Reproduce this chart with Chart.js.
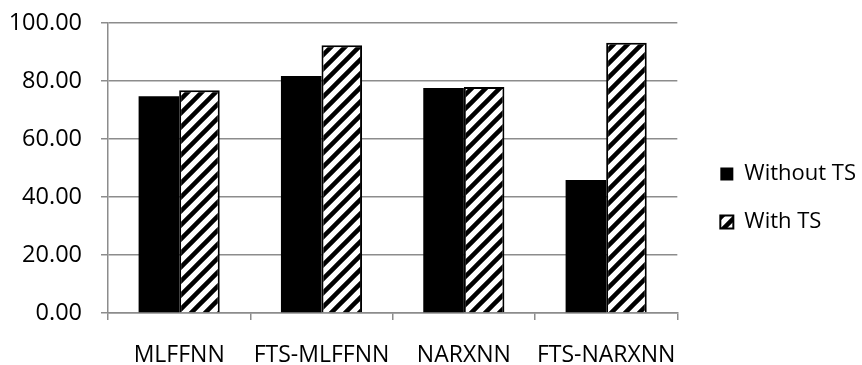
<!DOCTYPE html>
<html lang="en">
  <head>
    <meta charset="UTF-8" />
    <title>With / Without TS</title>
    <script src="https://cdn.jsdelivr.net/npm/chart.js"></script>
    <style>
      body {
        margin: 0;
        padding: 0;
        background: #fff;
      }
      #wrap {
        width: 862px;
        height: 365px;
      }
    </style>
  </head>
  <body>
    <div id="wrap"><canvas id="barChart" width="862" height="365"></canvas></div>
    <script>
      const categories = ["MLFFNN", "FTS-MLFFNN", "NARXNN", "FTS-NARXNN"];
      const withoutTS = [74.7, 81.7, 77.6, 45.9];
      const withTS = [76.8, 92.3, 77.9, 93.2];
      const seriesNames = ["Without TS", "With TS"];

      // diagonal "/" hatch like the Excel pattern fill
      function makeHatch() {
        const size = 14;
        const c = document.createElement("canvas");
        c.width = size;
        c.height = size;
        const g = c.getContext("2d");
        g.fillStyle = "#fff";
        g.fillRect(0, 0, size, size);
        g.strokeStyle = "#000";
        g.lineWidth = 4.5;
        g.beginPath();
        g.moveTo(-size, size * 2);
        g.lineTo(size * 2, -size);
        g.moveTo(-size, size);
        g.lineTo(size, -size);
        g.moveTo(0, size * 2);
        g.lineTo(size * 2, 0);
        g.stroke();
        return g.createPattern(c, "repeat");
      }

      // legend sits further from the plot than the defaults give
      const legendGap = {
        id: "legendGap",
        beforeLayout(chart) {
          const lg = chart.legend;
          if (lg && !lg._gapPatched) {
            const fit = lg.fit;
            lg.fit = function () {
              fit.call(this);
              this.width += 13;
            };
            lg._gapPatched = true;
          }
        },
        afterLayout(chart) {
          const lg = chart.legend;
          lg.left += 17;
          lg.right += 17;
          lg.top += 4;
          lg.bottom += 4;
        },
      };

      Chart.defaults.font.family = "'Open Sans', sans-serif";
      Chart.defaults.font.size = 22;
      Chart.defaults.color = "#000";

      const ctx = document.getElementById("barChart").getContext("2d");
      const barChart = new Chart(ctx, {
        type: "bar",
        data: {
          labels: categories,
          datasets: [
            {
              label: seriesNames[0],
              data: withoutTS,
              backgroundColor: "#000",
              borderWidth: 0,
            },
            {
              label: seriesNames[1],
              data: withTS,
              backgroundColor: makeHatch(),
              borderColor: "#000",
              borderWidth: 2,
            },
          ],
        },
        plugins: [legendGap],
        options: {
          responsive: false,
          animation: false,
          layout: {
            padding: { left: 0, top: 23, right: 0, bottom: 0 },
          },
          datasets: {
            bar: {
              categoryPercentage: 0.57,
              barPercentage: 1,
            },
          },
          plugins: {
            tooltip: { enabled: false },
            legend: {
              position: "right",
              labels: {
                boxWidth: 13,
                boxHeight: 13,
                padding: 26,
                font: { size: 22 },
              },
            },
          },
          scales: {
            x: {
              afterFit: (s) => {
                s.height = 52;
              },
              grid: {
                offset: true,
                drawOnChartArea: false,
                color: "#8c8c8c",
                lineWidth: 1.5,
                tickLength: 7,
              },
              border: { color: "#8c8c8c", width: 1.5 },
              ticks: { padding: 22, maxRotation: 0, font: { size: 23 } },
            },
            y: {
              min: 0,
              max: 100,
              afterFit: (s) => {
                s.width = 108;
                // tick padding otherwise pushes the plot top down
                s.paddingTop = 0;
                s.paddingBottom = 0;
              },
              grid: {
                color: "#8c8c8c",
                lineWidth: 1.5,
                tickLength: 7,
              },
              border: { color: "#8c8c8c", width: 1.5 },
              ticks: {
                stepSize: 20,
                padding: 19,
                font: { size: 23.5 },
                callback: (v) => Number(v).toFixed(2),
              },
            },
          },
        },
      });
    </script>
  </body>
</html>
